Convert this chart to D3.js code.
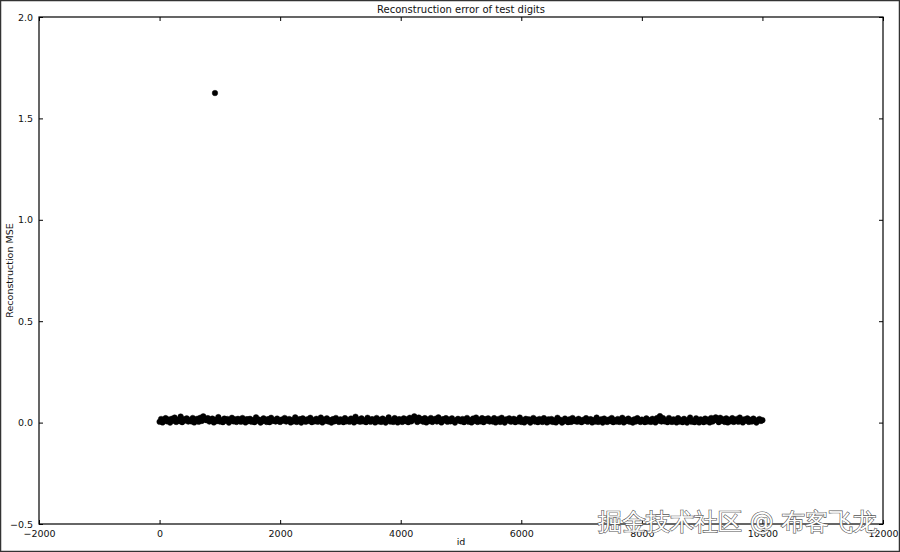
<!DOCTYPE html>
<html><head><meta charset="utf-8">
<script src="https://cdn.jsdelivr.net/npm/d3@7"></script>
<style>body{margin:0;background:#fff}svg{display:block}text{font-family:"DejaVu Sans",sans-serif}</style>
</head><body><svg id="c" width="900" height="552"></svg>
<script>
// Data: reconstruction MSE, sampled every 25 ids from 0 to 10000
const idStep = 25;
const errors = [
0.004,0.018,0.001,0.012,0.022,0.006,0.015,0.000,0.019,0.009,0.025,0.003,0.014,0.007,0.030,0.002,0.016,0.010,0.021,0.005,
0.013,0.006,0.023,0.001,0.011,0.019,0.004,0.024,0.008,0.031,0.017,0.012,0.022,0.005,0.009,0.020,0.001,0.014,0.007,0.027,
0.005,0.013,0.002,0.020,0.009,0.018,0.000,0.011,0.024,0.006,0.016,0.003,0.019,0.008,0.004,0.023,0.010,0.001,0.017,0.007,
0.019,0.004,0.012,0.002,0.026,0.009,0.015,0.000,0.006,0.021,0.011,0.003,0.017,0.002,0.024,0.008,0.013,0.005,0.020,0.007,
0.003,0.015,0.009,0.023,0.005,0.011,0.018,0.001,0.013,0.006,0.026,0.003,0.010,0.017,0.000,0.021,0.011,0.004,0.016,0.008,
0.024,0.002,0.013,0.006,0.019,0.004,0.011,0.025,0.001,0.015,0.008,0.021,0.005,0.012,0.000,0.017,0.006,0.023,0.010,0.003,
0.016,0.008,0.002,0.022,0.006,0.013,0.004,0.020,0.009,0.001,0.029,0.007,0.015,0.004,0.021,0.006,0.011,0.002,0.024,0.008,
0.004,0.017,0.010,0.001,0.023,0.006,0.014,0.003,0.020,0.008,0.000,0.015,0.026,0.005,0.011,0.003,0.022,0.008,0.001,0.017,
0.010,0.003,0.021,0.007,0.016,0.002,0.024,0.006,0.013,0.031,0.019,0.003,0.025,0.009,0.017,0.004,0.022,0.001,0.015,0.007,
0.023,0.003,0.012,0.019,0.005,0.026,0.008,0.001,0.017,0.010,0.022,0.004,0.015,0.006,0.021,0.008,0.000,0.013,0.019,0.009,
0.006,0.018,0.002,0.015,0.023,0.004,0.012,0.001,0.020,0.008,0.025,0.003,0.014,0.006,0.022,0.002,0.017,0.009,0.021,0.005,
0.013,0.005,0.022,0.001,0.010,0.018,0.003,0.024,0.007,0.000,0.016,0.011,0.021,0.004,0.008,0.019,0.002,0.014,0.006,0.025,
0.003,0.012,0.001,0.019,0.008,0.016,0.000,0.010,0.023,0.005,0.014,0.002,0.018,0.007,0.003,0.022,0.010,0.001,0.016,0.006,
0.018,0.003,0.011,0.001,0.024,0.008,0.014,0.000,0.005,0.020,0.010,0.002,0.016,0.003,0.023,0.007,0.012,0.004,0.019,0.006,
0.002,0.014,0.008,0.022,0.004,0.010,0.017,0.001,0.012,0.005,0.025,0.003,0.009,0.016,0.000,0.020,0.010,0.003,0.015,0.007,
0.023,0.002,0.012,0.005,0.018,0.003,0.010,0.024,0.001,0.014,0.007,0.020,0.004,0.011,0.000,0.016,0.005,0.022,0.009,0.003,
0.015,0.007,0.002,0.021,0.005,0.012,0.003,0.019,0.008,0.001,0.022,0.009,0.032,0.005,0.022,0.006,0.011,0.002,0.023,0.007,
0.003,0.016,0.009,0.001,0.022,0.005,0.013,0.002,0.019,0.007,0.000,0.014,0.025,0.004,0.010,0.002,0.021,0.007,0.001,0.016,
0.009,0.002,0.020,0.006,0.015,0.001,0.023,0.005,0.012,0.026,0.018,0.002,0.024,0.008,0.016,0.003,0.021,0.001,0.014,0.006,
0.022,0.003,0.011,0.018,0.004,0.025,0.007,0.001,0.016,0.009,0.021,0.003,0.014,0.005,0.020,0.007,0.000,0.012,0.018,0.008,
0.012
];
const outlierIds = [919];
const outlierErrors = [1.625];
const xTicks = [-2000,0,2000,4000,6000,8000,10000,12000];
const yTicks = [-0.5,0.0,0.5,1.0,1.5,2.0];
const title = "Reconstruction error of test digits";
const xLabel = "id";
const yLabel = "Reconstruction MSE";

const svg = d3.select("#c");
const W = 900, H = 552;
const m = {l:39, t:17, r:883, b:524};
const x = d3.scaleLinear().domain([-2000,12000]).range([m.l,m.r]);
const y = d3.scaleLinear().domain([-0.5,2.0]).range([m.b,m.t]);

// outer frame
svg.append("rect").attr("x",0.5).attr("y",0.5).attr("width",W-1).attr("height",H-1)
  .attr("fill","#fff").attr("stroke","#333").attr("stroke-width",1.5);

const pts = errors.map((v,i)=>({id:i*idStep, v}))
  .concat(outlierIds.map((id,i)=>({id, v:outlierErrors[i]})));

svg.append("g").selectAll("circle").data(pts).join("circle")
  .attr("cx",d=>x(d.id)).attr("cy",d=>y(d.v)).attr("r",2.8)
  .attr("fill","#000").attr("stroke","#000").attr("stroke-width",0.4);

// axes (ticks inside, classic matplotlib)
const fmtX = d3.format("d"), fmtY = d3.format(".1f");
const axB = d3.axisBottom(x).tickValues(xTicks).tickSize(-4).tickPadding(6).tickFormat(fmtX);
const axT = d3.axisTop(x).tickValues(xTicks).tickSize(-4).tickFormat("");
const axL = d3.axisLeft(y).tickValues(yTicks).tickSize(-4).tickPadding(6).tickFormat(fmtY);
const axR = d3.axisRight(y).tickValues(yTicks).tickSize(-4).tickFormat("");
function style(g){ g.select(".domain").remove(); g.selectAll("line").attr("stroke","#000");
  g.selectAll("text").attr("font-size",9.5).attr("fill","#111").attr("font-family","DejaVu Sans"); }
svg.append("g").attr("transform",`translate(0,${m.b})`).call(axB).call(style);
svg.append("g").attr("transform",`translate(0,${m.t})`).call(axT).call(style);
svg.append("g").attr("transform",`translate(${m.l},0)`).call(axL).call(style);
svg.append("g").attr("transform",`translate(${m.r},0)`).call(axR).call(style);

svg.append("rect").attr("x",m.l).attr("y",m.t).attr("width",m.r-m.l).attr("height",m.b-m.t)
  .attr("fill","none").attr("stroke","#000").attr("stroke-width",1.2);

svg.append("text").attr("x",(m.l+m.r)/2).attr("y",13).attr("text-anchor","middle")
  .attr("font-size",10).attr("fill","#111").text(title);
svg.append("text").attr("x",(m.l+m.r)/2).attr("y",545).attr("text-anchor","middle")
  .attr("font-size",9.5).attr("fill","#111").text(xLabel);
svg.append("text").attr("transform",`translate(13,${(m.t+m.b)/2}) rotate(-90)`).attr("text-anchor","middle")
  .attr("font-size",9.5).attr("fill","#111").text(yLabel);

// watermark
svg.append("text").attr("x",598).attr("y",530)
  .attr("font-family","Noto Sans CJK SC").attr("font-size",24)
  .attr("fill","#fff").attr("stroke","#555").attr("stroke-width",1.2).attr("paint-order","stroke")
  .text("掘金技术社区 @ 布客飞龙");
</script></body></html>
